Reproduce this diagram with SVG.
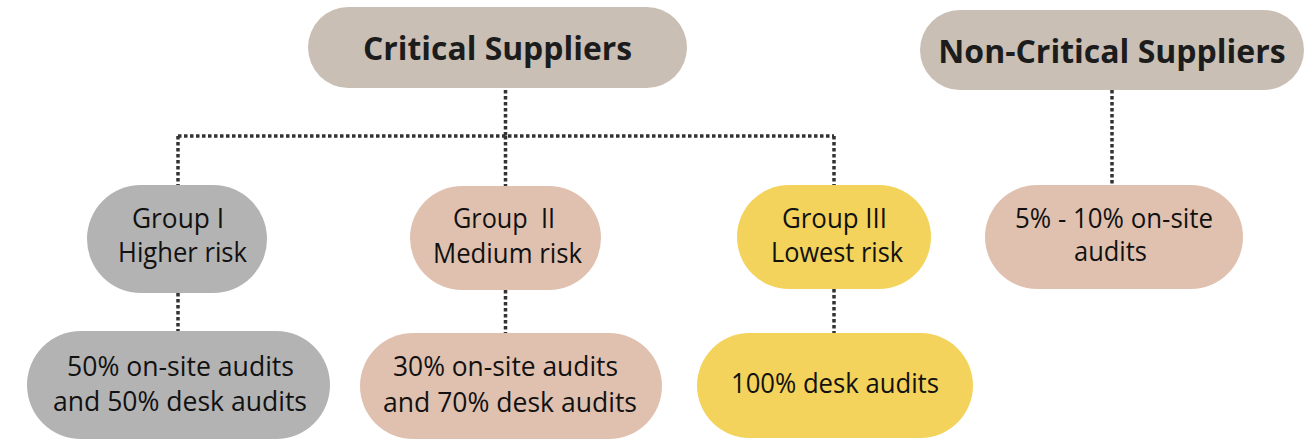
<svg xmlns="http://www.w3.org/2000/svg" width="1311" height="439" viewBox="0 0 1311 439">
<style>
.hd{fill:#c9bfb5}
.gr{fill:#b3b3b3}
.pk{fill:#e0c1b0}
.yl{fill:#f3d35b}
.t{font-family:"Open Sans","Noto Sans",sans-serif;font-size:28px;fill:#111;text-anchor:middle}
.tb{font-family:"Open Sans","Noto Sans",sans-serif;font-size:32px;font-weight:bold;fill:#1c1c1c;text-anchor:middle}
.c{fill:none;stroke:#333;stroke-width:3.5;stroke-dasharray:3.5 2.5}
</style>
<g id="connectors">
<path class="c" d="M505.5 90 V136 M178 136 H834 M178 136 V185 M505.5 136 V186 M834 136 V186"/>
<path class="c" d="M178 293 V331 M505.5 290 V333 M834 289 V333"/>
<path class="c" d="M1112 90 V185"/>
</g>
<g id="critical">
<rect class="hd" x="308" y="7" width="379" height="81" rx="40.5"/>
<text class="tb" x="497.5" y="60" textLength="269" lengthAdjust="spacingAndGlyphs">Critical Suppliers</text>
</g>
<g id="noncritical">
<rect class="hd" x="920" y="10" width="384" height="80" rx="40"/>
<text class="tb" x="1112" y="63">Non-Critical Suppliers</text>
</g>
<g id="group1">
<rect class="gr" x="87" y="185" width="180" height="108" rx="54"/>
<text class="t" x="178" y="228" textLength="92" lengthAdjust="spacingAndGlyphs">Group I</text>
<text class="t" x="182.5" y="262" textLength="129" lengthAdjust="spacingAndGlyphs">Higher risk</text>
</g>
<g id="group2">
<rect class="pk" x="410" y="186" width="191" height="104" rx="52"/>
<text class="t" x="504" y="228" xml:space="preserve" textLength="102" lengthAdjust="spacingAndGlyphs">Group  II</text>
<text class="t" x="507.5" y="263" textLength="149" lengthAdjust="spacingAndGlyphs">Medium risk</text>
</g>
<g id="group3">
<rect class="yl" x="737" y="185" width="194" height="104" rx="52"/>
<text class="t" x="834.5" y="228" textLength="105" lengthAdjust="spacingAndGlyphs">Group III</text>
<text class="t" x="837" y="262" textLength="132" lengthAdjust="spacingAndGlyphs">Lowest risk</text>
</g>
<g id="noncritical-audits">
<rect class="pk" x="985" y="185" width="258" height="104" rx="52"/>
<text class="t" x="1114" y="228" textLength="198" lengthAdjust="spacingAndGlyphs">5% - 10% on-site</text>
<text class="t" x="1110.5" y="261" textLength="73" lengthAdjust="spacingAndGlyphs">audits</text>
</g>
<g id="audits1">
<rect class="gr" x="27" y="331" width="303" height="108" rx="54"/>
<text class="t" x="180.5" y="376" textLength="227" lengthAdjust="spacingAndGlyphs">50% on-site audits</text>
<text class="t" x="180" y="411" textLength="254" lengthAdjust="spacingAndGlyphs">and 50% desk audits</text>
</g>
<g id="audits2">
<rect class="pk" x="360" y="333" width="302" height="106" rx="53"/>
<text class="t" x="505.5" y="376" textLength="225" lengthAdjust="spacingAndGlyphs">30% on-site audits</text>
<text class="t" x="510" y="412" textLength="254" lengthAdjust="spacingAndGlyphs">and 70% desk audits</text>
</g>
<g id="audits3">
<rect class="yl" x="697" y="333" width="276" height="105" rx="52.5"/>
<text class="t" x="835" y="393" textLength="208" lengthAdjust="spacingAndGlyphs">100% desk audits</text>
</g>
</svg>
